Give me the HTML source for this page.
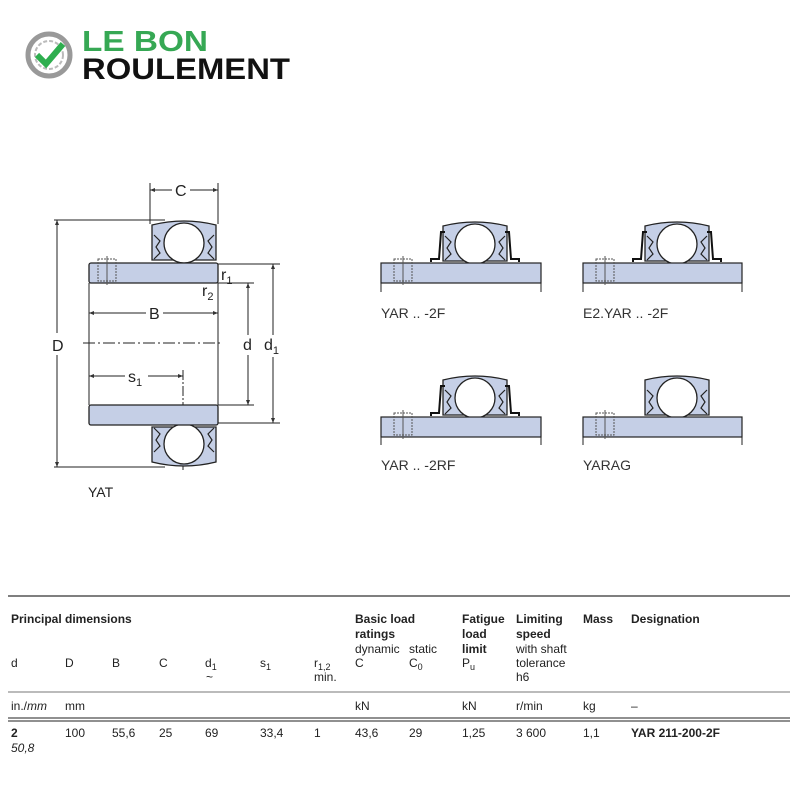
<!DOCTYPE html>
<html><head><meta charset="utf-8"><style>
body{margin:0;background:#fff;width:800px;height:800px;overflow:hidden;font-family:"Liberation Sans",sans-serif}
svg text{font-family:"Liberation Sans",sans-serif}
</style></head><body>
<svg width="800" height="800" viewBox="0 0 800 800" xmlns="http://www.w3.org/2000/svg">
<defs>
<marker id="a" viewBox="0 0 10 10" refX="10" refY="5" markerWidth="7" markerHeight="5" orient="auto-start-reverse"><path d="M0,1L10,5L0,9z" fill="#333"/></marker>
<g id="unit">
 <path d="M-32,17 L-32,-18 Q0,-26 32,-18 L32,17 Z" fill="#c5cfe6" stroke="#222" stroke-width="1.3"/>
 <circle r="20" fill="#fff" stroke="#222" stroke-width="1.3"/>
 <path d="M-30,-8 l6,6 -4,6 4,6 -6,6 M30,-8 l-6,6 4,6 -4,6 6,6" fill="none" stroke="#222" stroke-width="1.2"/>
</g>
<g id="flange">
 <path d="M-30,-12 L-34,-12 L-36,15 L-44,15 L-44,18 M30,-12 L34,-12 L36,15 L44,15 L44,18" fill="none" stroke="#111" stroke-width="2"/>
</g>
<g id="set">
 <rect x="-12" y="-6" width="18" height="22" fill="none" stroke="#555" stroke-dasharray="2 1"/>
 <line x1="-3" y1="-9" x2="-3" y2="20" stroke="#555"/>
</g>
</defs>

<!-- logo -->
<circle cx="49" cy="55" r="21" fill="none" stroke="#999" stroke-width="5"/>
<circle cx="49" cy="55" r="14" fill="none" stroke="#bbb" stroke-width="2" stroke-dasharray="4 2"/>
<path d="M37,55 l9,9 17,-20" fill="none" stroke="#2eae4f" stroke-width="6"/>
<text x="82" y="51" font-size="29" fill="#36a854" font-weight="bold" textLength="126" lengthAdjust="spacingAndGlyphs">LE BON</text>
<text x="82" y="79" font-size="30" fill="#111" font-weight="bold" textLength="208" lengthAdjust="spacingAndGlyphs">ROULEMENT</text>

<!-- main YAT drawing -->
<g stroke="#222" stroke-width="1" fill="none">
 <line x1="150" y1="183" x2="150" y2="224"/><line x1="218" y1="183" x2="218" y2="224"/>
 <line x1="150" y1="190" x2="172" y2="190" marker-start="url(#a)"/><line x1="190" y1="190" x2="218" y2="190" marker-end="url(#a)"/>
 <line x1="54" y1="220" x2="165" y2="220"/><line x1="54" y1="467" x2="165" y2="467"/>
 <line x1="57" y1="220" x2="57" y2="333" marker-start="url(#a)"/><line x1="57" y1="355" x2="57" y2="467" marker-end="url(#a)"/>
 <line x1="218" y1="264" x2="280" y2="264"/><line x1="218" y1="283" x2="254" y2="283"/>
 <line x1="218" y1="405" x2="254" y2="405"/><line x1="218" y1="423" x2="280" y2="423"/>
 <line x1="248" y1="283" x2="248" y2="335" marker-start="url(#a)"/><line x1="248" y1="355" x2="248" y2="405" marker-end="url(#a)"/>
 <line x1="273" y1="264" x2="273" y2="335" marker-start="url(#a)"/><line x1="273" y1="357" x2="273" y2="423" marker-end="url(#a)"/>
 <line x1="89" y1="313" x2="146" y2="313" marker-start="url(#a)"/><line x1="163" y1="313" x2="218" y2="313" marker-end="url(#a)"/>
 <line x1="89" y1="376" x2="125" y2="376" marker-start="url(#a)"/><line x1="148" y1="376" x2="183" y2="376" marker-end="url(#a)"/>
 <line x1="183" y1="370" x2="183" y2="470" stroke-dasharray="10 2 2 2"/>
 <line x1="83" y1="343" x2="222" y2="343" stroke-dasharray="12 3 2 3"/>
 <line x1="89" y1="283" x2="89" y2="405"/><line x1="218" y1="283" x2="218" y2="405"/>
</g>
<use href="#unit" x="184" y="243"/>
<g transform="translate(184,444) scale(1,-1)"><use href="#unit"/></g>
<rect x="89" y="263" width="129" height="20" rx="2" fill="#c5cfe6" stroke="#222" stroke-width="1.3"/>
<rect x="89" y="405" width="129" height="20" rx="2" fill="#c5cfe6" stroke="#222" stroke-width="1.3"/>
<use href="#set" x="110" y="265"/>
<g font-size="16" fill="#222">
<text x="175" y="196">C</text><text x="52" y="351">D</text><text x="149" y="319">B</text>
<text x="243" y="350">d</text><text x="264" y="350">d<tspan font-size="11" dy="4">1</tspan></text>
<text x="221" y="280">r<tspan font-size="11" dy="4">1</tspan></text>
<text x="202" y="296">r<tspan font-size="11" dy="4">2</tspan></text>
<text x="128" y="382">s<tspan font-size="11" dy="4">1</tspan></text>
<text x="88" y="497" font-size="14">YAT</text>
</g>

<!-- right figures -->
<g>
 <use href="#unit" x="475" y="244"/><use href="#flange" x="475" y="244"/>
 <rect x="381" y="263" width="160" height="20" fill="#c5cfe6" stroke="#222" stroke-width="1.2"/>
 <use href="#set" x="406" y="265"/>
 <path d="M381,263V292M541,263V292" stroke="#222"/>
 <use href="#unit" x="677" y="244"/><use href="#flange" x="677" y="244"/>
 <rect x="583" y="263" width="159" height="20" fill="#c5cfe6" stroke="#222" stroke-width="1.2"/>
 <use href="#set" x="608" y="265"/>
 <path d="M583,263V292M742,263V292" stroke="#222"/>
 <use href="#unit" x="475" y="398"/><use href="#flange" x="475" y="398"/>
 <rect x="381" y="417" width="160" height="20" fill="#c5cfe6" stroke="#222" stroke-width="1.2"/>
 <use href="#set" x="406" y="419"/>
 <path d="M381,417V445M541,417V445" stroke="#222"/>
 <use href="#unit" x="677" y="398"/>
 <rect x="583" y="417" width="159" height="20" fill="#c5cfe6" stroke="#222" stroke-width="1.2"/>
 <use href="#set" x="608" y="419"/>
 <path d="M583,417V445M742,417V445" stroke="#222"/>
</g>
<g font-size="14" fill="#333">
<text x="381" y="318">YAR .. -2F</text><text x="583" y="318">E2.YAR .. -2F</text>
<text x="381" y="470">YAR .. -2RF</text><text x="583" y="470">YARAG</text>
</g>

<!-- table -->
<line x1="8" y1="596" x2="790" y2="596" stroke="#555" stroke-width="1.5"/>
<line x1="8" y1="692" x2="790" y2="692" stroke="#777" stroke-width="1"/>
<line x1="8" y1="718" x2="790" y2="718" stroke="#222" stroke-width="1"/>
<line x1="8" y1="721" x2="790" y2="721" stroke="#222" stroke-width="1"/>
<g font-size="12" fill="#222">
<g font-weight="bold">
<text x="11" y="623">Principal dimensions</text>
<text x="355" y="623">Basic load</text><text x="355" y="638">ratings</text>
<text x="462" y="623">Fatigue</text><text x="462" y="638">load</text><text x="462" y="653">limit</text>
<text x="516" y="623">Limiting</text><text x="516" y="638">speed</text>
<text x="583" y="623">Mass</text><text x="631" y="623">Designation</text>
</g>
<text x="355" y="653">dynamic</text><text x="409" y="653">static</text>
<text x="516" y="653">with shaft</text><text x="516" y="667">tolerance</text><text x="516" y="681">h6</text>
<text x="11" y="667">d</text><text x="65" y="667">D</text><text x="112" y="667">B</text><text x="159" y="667">C</text>
<text x="205" y="667">d<tspan font-size="9" dy="3">1</tspan></text><text x="206" y="681">~</text>
<text x="260" y="667">s<tspan font-size="9" dy="3">1</tspan></text>
<text x="314" y="667">r<tspan font-size="9" dy="3">1,2</tspan></text><text x="314" y="681">min.</text>
<text x="355" y="667">C</text><text x="409" y="667">C<tspan font-size="9" dy="3">0</tspan></text>
<text x="462" y="667">P<tspan font-size="9" dy="3">u</tspan></text>
<text x="11" y="710">in./<tspan font-style="italic">mm</tspan></text><text x="65" y="710">mm</text>
<text x="355" y="710">kN</text><text x="462" y="710">kN</text><text x="516" y="710">r/min</text><text x="583" y="710">kg</text><text x="631" y="710">–</text>
<text x="11" y="737" font-weight="bold">2</text><text x="11" y="752" font-style="italic">50,8</text>
<text x="65" y="737">100</text><text x="112" y="737">55,6</text><text x="159" y="737">25</text><text x="205" y="737">69</text>
<text x="260" y="737">33,4</text><text x="314" y="737">1</text><text x="355" y="737">43,6</text><text x="409" y="737">29</text>
<text x="462" y="737">1,25</text><text x="516" y="737">3 600</text><text x="583" y="737">1,1</text>
<text x="631" y="737" font-weight="bold">YAR 211-200-2F</text>
</g>
</svg>
</body></html>
